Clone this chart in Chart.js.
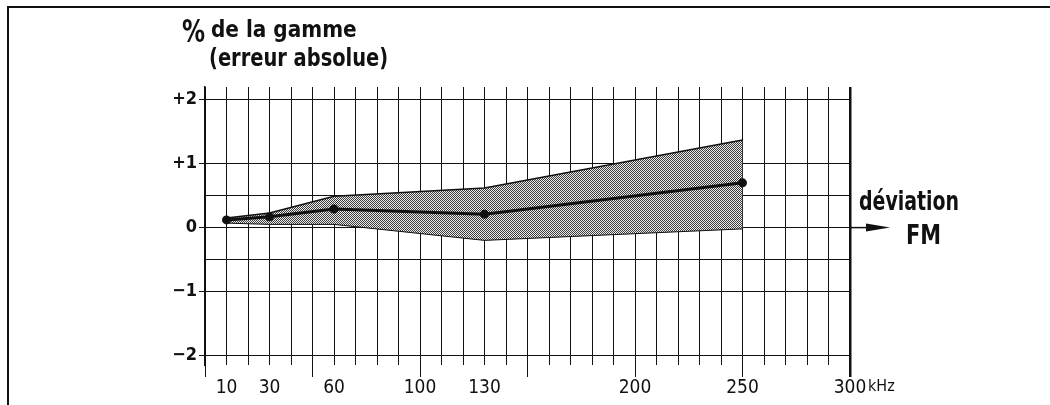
<!DOCTYPE html>
<html>
<head>
<meta charset="utf-8">
<script src="https://cdn.jsdelivr.net/npm/chart.js@4.4.1/dist/chart.umd.min.js"></script>
<style>
  html, body { margin: 0; padding: 0; background: #fff; }
  #wrap { width: 1050px; height: 405px; position: relative; }
</style>
</head>
<body>
<div id="wrap"><canvas id="chart"></canvas></div>
<script>
// FM deviation (kHz) where the curves were measured
const freq = [10, 30, 60, 130, 250];
// % of range, absolute error: upper limit, typical, lower limit
const upper = [0.15, 0.23, 0.49, 0.62, 1.37];
const typical = [0.12, 0.17, 0.29, 0.21, 0.70];
const lower = [0.07, 0.05, 0.05, -0.20, -0.02];

// axis labels
const freqLabels = [10, 30, 60, 100, 130, 200, 250, 300];
const yTickValues = [-2, -1, 0, 1, 2];
const yTickLabels = ['\u22122', '\u22121', '0', '+1', '+2'];
const yGridValues = [-2, -1, -0.5, 0, 0.5, 1, 2];

const FONT = "'Liberation Sans Narrow', 'DejaVu Sans Condensed', 'Roboto', sans-serif";
const INK = '#111';

// stippled fill like the scanned original
function stipple() {
  const c = document.createElement('canvas');
  c.width = 2; c.height = 2;
  const g = c.getContext('2d');
  g.fillStyle = '#eeeeee';
  g.fillRect(0, 0, 2, 2);
  g.fillStyle = '#3a3a3a';
  g.fillRect(0, 0, 1, 1);
  g.fillRect(1, 1, 1, 1);
  return g.createPattern(c, 'repeat');
}

const toPoints = (ys) => freq.map((x, i) => ({ x: x, y: ys[i] }));

// text squeezed horizontally to look like the condensed face of the original
function text(ctx, str, x, y, size, sx, weight) {
  ctx.save();
  ctx.translate(x, y);
  ctx.scale(sx, 1);
  ctx.font = (weight || 'normal') + ' ' + size + 'px ' + FONT;
  ctx.fillText(str, 0, 0);
  ctx.restore();
}

// frame, headings, arrow and unit
const decorations = {
  id: 'decorations',
  afterDraw(chart) {
    const ctx = chart.ctx;
    const area = chart.chartArea;
    const y0 = chart.scales.y.getPixelForValue(0);
    ctx.save();
    ctx.strokeStyle = INK;
    ctx.fillStyle = INK;

    // page frame (top and left)
    ctx.lineWidth = 2;
    ctx.beginPath();
    ctx.moveTo(1050, 7);
    ctx.lineTo(8, 7);
    ctx.lineTo(8, 405);
    ctx.stroke();

    // y heading
    ctx.textBaseline = 'alphabetic';
    ctx.textAlign = 'left';
    text(ctx, '%', 182, 42, 32, 0.8, 'bold');
    text(ctx, 'de la gamme', 211, 37, 23, 0.97, 'bold');
    text(ctx, '(erreur absolue)', 209, 66, 24, 0.9, 'bold');

    // arrow along the zero line
    ctx.lineWidth = 1.5;
    ctx.beginPath();
    ctx.moveTo(area.right, y0);
    ctx.lineTo(872, y0);
    ctx.stroke();
    ctx.beginPath();
    ctx.moveTo(890, y0);
    ctx.lineTo(866, y0 - 4);
    ctx.lineTo(866, y0 + 4);
    ctx.closePath();
    ctx.fill();

    // x heading
    text(ctx, 'déviation', 859, 210, 27, 0.78, 'bold');
    text(ctx, 'FM', 906, 244, 27, 0.86, 'bold');

    // unit after the last tick
    text(ctx, 'kHz', 868, 391, 16, 1);
    ctx.restore();
  }
};

new Chart(document.getElementById('chart'), {
  type: 'line',
  data: {
    datasets: [
      {
        label: 'max',
        data: toPoints(upper),
        borderColor: INK,
        borderWidth: 1.5,
        backgroundColor: stipple(),
        fill: 2,
        pointRadius: 0,
        tension: 0,
        order: 3
      },
      {
        label: 'typique',
        data: toPoints(typical),
        borderColor: INK,
        borderWidth: 3,
        pointRadius: 3,
        pointBackgroundColor: INK,
        pointBorderColor: INK,
        fill: false,
        tension: 0,
        order: 1
      },
      {
        label: 'min',
        data: toPoints(lower),
        borderColor: INK,
        borderWidth: 1,
        pointRadius: 0,
        fill: false,
        tension: 0,
        order: 2
      }
    ]
  },
  options: {
    responsive: true,
    maintainAspectRatio: false,
    animation: false,
    layout: { padding: { top: 87, right: 200, left: 0, bottom: 0 } },
    plugins: {
      legend: { display: false },
      tooltip: { enabled: false }
    },
    scales: {
      x: {
        type: 'linear',
        min: 0,
        max: 300,
        afterFit: (s) => { s.height = 40; },
        border: { display: false },
        grid: {
          color: INK,
          lineWidth: (c) => (c.tick && c.tick.value === 300 ? 2.5 : 1),
          tickLength: 12,
          tickColor: (c) => (c.tick && c.tick.value % 50 === 0 ? INK : 'rgba(0,0,0,0)'),
          tickWidth: (c) => (c.tick && c.tick.value === 300 ? 2.5 : 1)
        },
        ticks: {
          stepSize: 10,
          autoSkip: false,
          maxRotation: 0,
          padding: 0,
          color: INK,
          font: { family: FONT, size: 19 },
          callback: (v) => (freqLabels.includes(v) ? String(v) : '')
        }
      },
      y: {
        min: -2.15,
        max: 2.2,
        afterFit: (s) => { s.width = 205; },
        afterBuildTicks: (s) => { s.ticks = yGridValues.map((v) => ({ value: v })); },
        border: { display: true, color: INK, width: 1.5 },
        grid: {
          color: INK,
          lineWidth: 1,
          tickLength: 6,
          tickColor: (c) => (c.tick && yTickValues.includes(c.tick.value) ? INK : 'rgba(0,0,0,0)')
        },
        ticks: {
          padding: 2,
          color: INK,
          font: { family: FONT, size: 18, weight: 'bold' },
          callback: (v) => {
            const i = yTickValues.indexOf(v);
            return i < 0 ? '' : yTickLabels[i];
          }
        }
      }
    }
  },
  plugins: [decorations]
});
</script>
</body>
</html>
